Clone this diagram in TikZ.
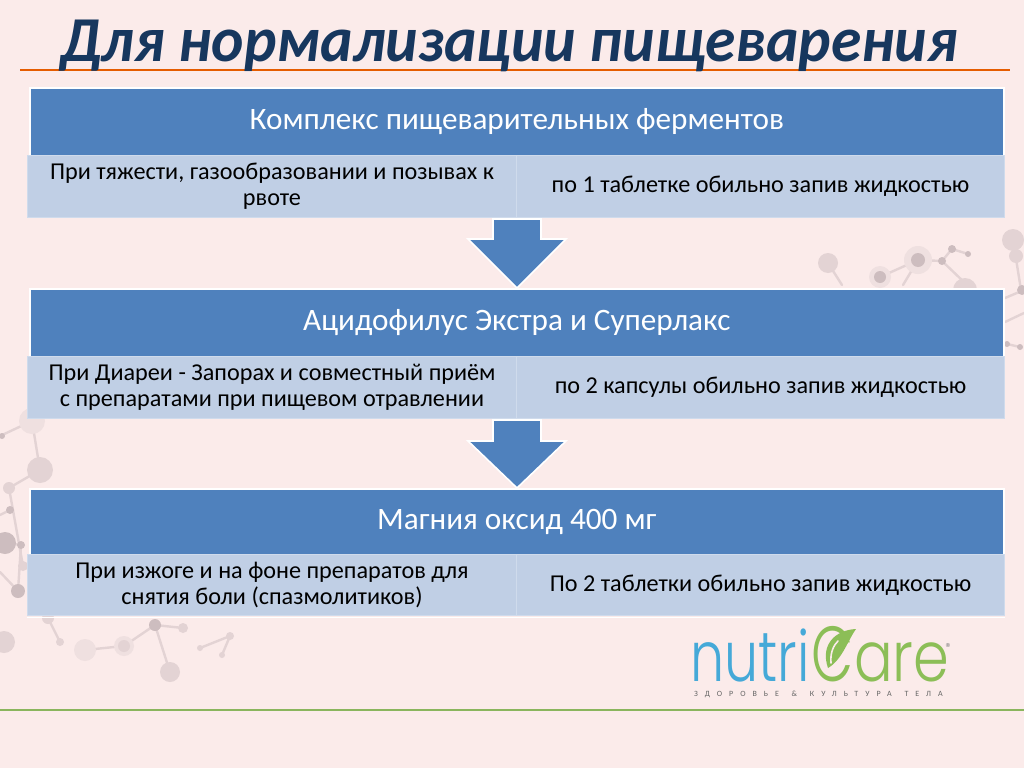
\documentclass[tikz,border=0pt]{standalone}
\usepackage{fontspec}
\usetikzlibrary{calc}
\setmainfont{Carlito}
\newfontfamily\logofont{Poppins Light}
\definecolor{bgc}{HTML}{FBEBEA}
\definecolor{headc}{HTML}{4F81BD}
\definecolor{rowc}{HTML}{C0CFE5}
\definecolor{rowedge}{HTML}{CFDBEC}
\definecolor{titlec}{HTML}{17375E}
\definecolor{molA}{HTML}{EFE0E0}
\definecolor{molB}{HTML}{E3D3D4}
\definecolor{molC}{HTML}{CDBDBF}
\definecolor{cyanl}{HTML}{45A9D8}
\definecolor{greenl}{HTML}{8CBE57}
\tikzset{x=1pt,y=-1pt,
 headbox/.style={fill=headc,draw=white,line width=1.6pt,text=white,minimum width=974pt,minimum height=68pt,inner sep=0pt,anchor=north west,font=\fontsize{31.2}{34}\selectfont},
 rowbox/.style={fill=rowc,draw=rowedge,line width=1pt,inner sep=0pt,anchor=north west,minimum height=62pt,align=center,text=black,font=\fontsize{24.2}{26}\selectfont},
 blockarr/.style={fill=headc,draw=white,line width=1.6pt,line join=miter},
 molline/.style={draw=molB,line width=2.4pt,line cap=round},
 logotext/.style={anchor=base west,inner sep=0pt,font=\logofont\fontsize{70}{70}\selectfont}
}
\begin{document}
\begin{tikzpicture}
\useasboundingbox (0,0) rectangle (1024,768);
\fill[bgc] (0,0) rectangle (1024,768);
% molecule lines
\foreach \a/\b/\c/\d in {828/263/842/285,880/277/918/260,918/260/903/285,918/260/942/261,942/261/965/283,942/261/952/249,952/249/968/254,1013/240/1021/290,1024/290/1005/298,1024/313/1005/322,1007/344/1020/347,32/421/40/470,0/436/32/421,40/470/9/488,0/515/10/510,9/488/23/566,5/543/21/545,21/545/18/591,0/572/18/591,48/618/60/642,85/650/124/646,124/646/155/625,155/625/183/628,155/625/170/672,200/648/230/636,230/636/222/655}
 \draw[molline] (\a,\b) -- (\c,\d);
% molecule discs
\foreach \x/\y/\r in {880/277/11,918/260/14,32/421/13,85/650/11,124/646/10}
 \fill[molA] (\x,\y) circle (\r);
\foreach \x/\y/\r in {828/263/10,965/290/12,1013/240/11,1016/256/7,40/470/13,9/488/6,23/566/5,4/642/11,48/618/6,170/672/10,183/628/5,60/642/4,230/636/4,200/648/3,222/655/3,124/646/6}
 \fill[molB] (\x,\y) circle (\r);
\foreach \x/\y/\r in {880/277/6,918/260/7,942/261/4,952/249/4,968/254/3,1022/290/5,1007/344/3,1020/347/3,2/436/3,10/510/4,5/543/11,21/545/4,18/591/7,155/625/6}
 \fill[molC] (\x,\y) circle (\r);
% tables
\node[headbox] (h1) at (29,87) {Комплекс пищеварительных ферментов};
\node[rowbox,minimum width=489pt] (r1l) at (27,155) {При тяжести, газообразовании и позывах к\\рвоте};
\node[rowbox,minimum width=488pt] (r1r) at (516,155) {по 1 таблетке обильно запив жидкостью};
\node[headbox] (h2) at (29,288) {Ацидофилус Экстра и Суперлакс};
\node[rowbox,minimum width=489pt] (r2l) at (27,356) {При Диареи - Запорах и совместный приём\\с препаратами при пищевом отравлении};
\node[rowbox,minimum width=488pt] (r2r) at (516,356) {по 2 капсулы обильно запив жидкостью};
\node[headbox,minimum height=66pt] (h3) at (29,488) {Магния оксид 400 мг};
\node[rowbox,minimum width=489pt,minimum height=61pt] (r3l) at (27,554) {При изжоге и на фоне препаратов для\\снятия боли (спазмолитиков)};
\node[rowbox,minimum width=488pt,minimum height=61pt] (r3r) at (516,554) {По 2 таблетки обильно запив жидкостью};
\coordinate (wl) at (r3l.south west); \coordinate (wr) at (r3r.south east);
\draw[white,line width=1.6pt] ($(wl)+(0,1.5)$) -- ($(wr)+(0,1.5)$);
% arrows
\coordinate (a1) at (r1l.south east);
\coordinate (t1) at (h2.north -| a1);
\coordinate (a2) at (r2l.south east);
\coordinate (t2) at (h3.north -| a2);
\draw[blockarr] ($(a1)+(-24,1)$) -- ($(a1)+(24,1)$) -- ($(a1)+(24,21)$) -- ($(a1)+(49,21)$) -- (t1) -- ($(a1)+(-49,21)$) -- ($(a1)+(-24,21)$) -- cycle;
\draw[blockarr] ($(a2)+(-24,1)$) -- ($(a2)+(24,1)$) -- ($(a2)+(24,22)$) -- ($(a2)+(49,22)$) -- (t2) -- ($(a2)+(-49,22)$) -- ($(a2)+(-24,22)$) -- cycle;
% rules and title
\coordinate (ol) at (20,70); \coordinate (or) at (1010,70);
\draw[draw=orange!80!red!90!black,line width=1.5pt] (ol) -- (or);
\node[anchor=base west,inner sep=0pt,text=titlec,xscale=.962,font=\fontsize{64}{64}\selectfont\bfseries\itshape] (title) at (60,62) {Для нормализации пищеварения};
\coordinate (gl) at (0,710); \coordinate (gr) at (1024,710);
\draw[greenl!85!gray,line width=1.5pt] (gl) -- (gr);
% logo
\node[logotext,text=cyanl,xscale=.77] (nu) at (690,681) {nutri};
\node[logotext,text=greenl,xscale=.7,font=\logofont\fontsize{78}{78}\selectfont] (cc) at (811,681) {C};
\node[logotext,text=greenl,xscale=.82] (ca) at (854,681) {are};
\fill[greenl] (856,629) .. controls (835,630) and (820,645) .. (828,668) .. controls (842,660) and (848,640) .. cycle;
\draw[bgc,line width=1.6pt,line cap=round] (831,663) .. controls (830,652) and (834,645) .. (838,641);
\node[inner sep=0pt,text=gray,font=\fontsize{13}{13}\selectfont] (reg) at (949,648) {®};
\node[anchor=base west,inner sep=0pt,text=black!60,font=\fontsize{8}{8}\selectfont\addfontfeature{LetterSpace=87}] (tag) at (694,696) {ЗДОРОВЬЕ\hspace*{4pt} \&\hspace*{4pt} КУЛЬТУРА\hspace*{4pt} ТЕЛА};
\end{tikzpicture}
\end{document}
